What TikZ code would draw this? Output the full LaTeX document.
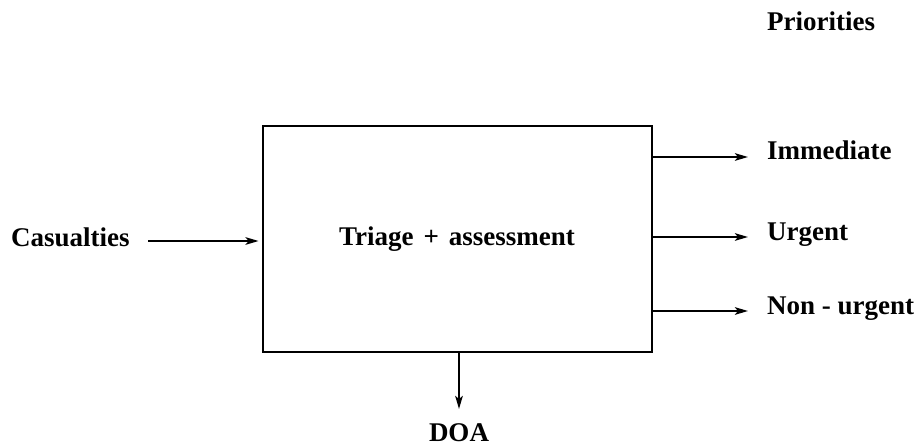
\documentclass[tikz,border=0pt]{standalone}
\usepackage{fontspec}
\setmainfont{Liberation Serif}
\usetikzlibrary{arrows.meta}
\begin{document}
\begin{tikzpicture}[x=1pt,y=-1pt,
  lbl/.style={font=\fontsize{27}{31}\selectfont\bfseries, inner sep=0pt},
  arr/.style={line width=2.2pt,-{Stealth[length=13pt,width=7.5pt,inset=3pt]}},
  boxstyle/.style={draw, line width=2.8pt, minimum width=389pt, minimum height=226pt, inner sep=0pt}]
\useasboundingbox (0,0) rectangle (924,446);
\node[boxstyle] (box) at (457.5,239) {};
\node[lbl, anchor=base] (tri) at (457,246) {Triage\hskip 10pt+\hskip 10pt assessment};
\node[lbl, anchor=base west] (cas) at (11,247) {Casualties};
\node[lbl, anchor=base west] (pri) at (767,31) {Priorities};
\node[lbl, anchor=base west] (imm) at (767,160) {Immediate};
\node[lbl, anchor=base west] (urg) at (767,241) {Urgent};
\node[lbl, anchor=base west] (non) at (767,315) {Non - urgent};
\node[lbl, anchor=base] (doa) at (459,441) {DOA};
\coordinate (cs) at (148,241);
\coordinate (e1) at (748,157);
\coordinate (e2) at (748,237);
\coordinate (e3) at (748,311);
\coordinate (d) at (459,409);
\draw[arr, shorten >=3pt] (cs) -- (box.west |- cs);
\draw[arr] (box.east |- e1) -- (e1);
\draw[arr] (box.east |- e2) -- (e2);
\draw[arr] (box.east |- e3) -- (e3);
\draw[arr] (box.south -| d) -- (d);
\end{tikzpicture}
\end{document}
